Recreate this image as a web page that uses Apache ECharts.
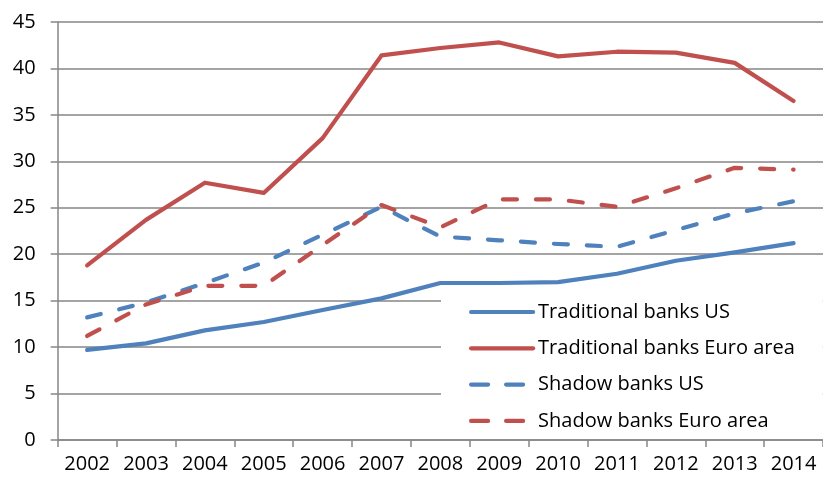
<!DOCTYPE html>
<html>
<head>
<meta charset="utf-8">
<script src="https://cdn.jsdelivr.net/npm/echarts@6/dist/echarts.min.js"></script>
<style>
html,body{margin:0;padding:0;background:#fff;}
#chart{width:823px;height:479px;}
</style>
</head>
<body>
<div id="chart"></div>
<script>
var years = ['2002','2003','2004','2005','2006','2007','2008','2009','2010','2011','2012','2013','2014'];
var tradUS = [9.7, 10.4, 11.8, 12.7, 14.0, 15.25, 16.9, 16.9, 17.0, 17.9, 19.3, 20.2, 21.2];
var tradEuro = [18.8, 23.7, 27.7, 26.6, 32.5, 41.4, 42.2, 42.8, 41.3, 41.8, 41.7, 40.6, 36.5];
var shadowUS = [13.2, 14.8, 16.9, 19.1, 22.1, 25.1, 21.9, 21.5, 21.1, 20.8, 22.6, 24.4, 25.7];
var shadowEuro = [11.2, 14.6, 16.6, 16.6, 21.0, 25.3, 22.9, 25.9, 25.9, 25.1, 27.1, 29.3, 29.1];
var names = ['Traditional banks US', 'Traditional banks Euro area', 'Shadow banks US', 'Shadow banks Euro area'];

var BLUE = '#4F81BD', RED = '#C0504D', GRID = '#868686';
var FONT = 'Open Sans';

function mk(name, data, color, dashed) {
  return {
    name: name, type: 'line', data: data, symbol: 'none', smooth: false,
    lineStyle: { color: color, width: 4.2, type: dashed ? [14, 19] : 'solid', cap: 'round', join: 'round' },
    itemStyle: { color: color },
    emphasis: { disabled: true }
  };
}

var chart = echarts.init(document.getElementById('chart'), null, { renderer: 'canvas' });
chart.setOption({
  animation: false,
  backgroundColor: '#fff',
  grid: { left: 57.7, top: 22, bottom: 39, right: -6.9, containLabel: false },
  xAxis: {
    type: 'category', data: years, boundaryGap: true,
    axisLine: { lineStyle: { color: GRID, width: 1.5 } },
    axisTick: { show: true, length: 7, interval: 0, lineStyle: { color: GRID, width: 1.5 } },
    axisLabel: { color: '#000', fontFamily: FONT, fontSize: 20, margin: 14, interval: 0 },
    splitLine: { show: false }
  },
  yAxis: {
    type: 'value', min: 0, max: 45, interval: 5,
    axisLine: { show: true, lineStyle: { color: GRID, width: 1.5 } },
    axisTick: { show: true, length: 7, lineStyle: { color: GRID, width: 1.5 } },
    axisLabel: { color: '#000', fontFamily: FONT, fontSize: 20, margin: 22 },
    splitLine: { show: true, lineStyle: { color: GRID, width: 1.5 } }
  },
  legend: {
    orient: 'vertical', left: 441, top: 290,
    backgroundColor: '#fff',
    padding: [12, 28, 6, 28],
    itemWidth: 62, itemHeight: 20, itemGap: 16.3,
    textStyle: { color: '#000', fontFamily: FONT, fontSize: 20, lineHeight: 20 },
    itemStyle: { opacity: 0 },
    lineStyle: { width: 4.2 },
    data: [
      { name: names[0] },
      { name: names[1] },
      { name: names[2], lineStyle: { width: 4.2, type: [17, 18], cap: 'round' } },
      { name: names[3], lineStyle: { width: 4.2, type: [17, 18], cap: 'round' } }
    ],
    selectedMode: false
  },
  series: [
    mk(names[0], tradUS, BLUE, false),
    mk(names[1], tradEuro, RED, false),
    mk(names[2], shadowUS, BLUE, true),
    mk(names[3], shadowEuro, RED, true)
  ]
});
</script>
</body>
</html>
